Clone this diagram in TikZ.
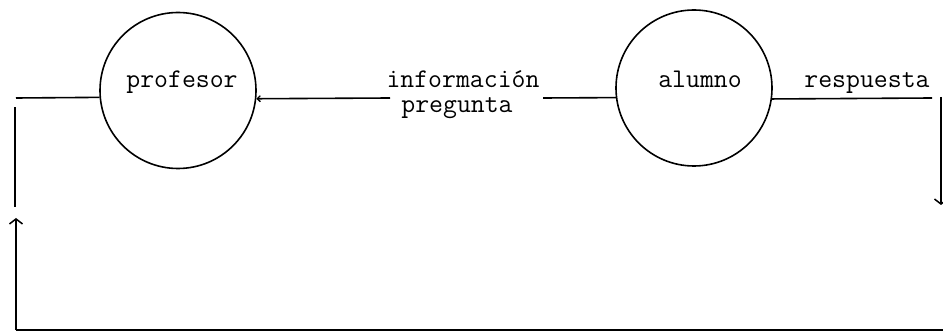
\documentclass[tikz,border=0pt]{standalone}
\usetikzlibrary{arrows.meta}
\begin{document}
\begin{tikzpicture}[x=1pt,y=-1pt,
  proc/.style={draw, circle, minimum size=156pt, inner sep=0pt, line width=1.6pt},
  lbl/.style={anchor=base, inner sep=0pt, font=\ttfamily\fontsize{27}{30}\selectfont},
  flow/.style={line width=1.6pt},
  barb/.style={-{Straight Barb[length=5pt,width=13pt,line width=1.5pt]}}]
\useasboundingbox (0,0) rectangle (943,331);
\node[proc] (prof) at (178,90.5) {};
\node[proc] (alum) at (694,88) {};
\node[lbl] (tprof) at (182,88) {profesor};
\node[lbl] (tinfo) at (463,88) {información};
\node[lbl] (tpreg) at (457,113) {pregunta};
\node[lbl] (talum) at (700,88) {alumno};
\node[lbl] (tresp) at (867,88) {respuesta};
\coordinate (tl) at (16,98);
\coordinate (lu1) at (15,107);
\coordinate (lu2) at (15,207);
\coordinate (ltip) at (16,218);
\coordinate (bl) at (16,330);
\coordinate (br) at (943,330);
\coordinate (pm1) at (390,98);
\coordinate (pm2) at (543,98);
\coordinate (rr) at (932,98);
\coordinate (rt) at (941,97);
\coordinate (rtip) at (941,205);
\draw[flow] (tl) -- (prof.185.5);
\draw[flow,-{Straight Barb[length=3pt,width=6pt,line width=1.3pt]}] (pm1) -- (prof.354.5);
\draw[flow] (pm2) -- (alum.187.4);
\draw[flow] (alum.352.6) -- (rr);
\draw[flow,barb] (rt) -- (rtip);
\draw[flow] (lu2) -- (lu1);
\draw[flow,barb] (bl) -- (ltip);
\draw[flow] (bl) -- (br);
\end{tikzpicture}
\end{document}
